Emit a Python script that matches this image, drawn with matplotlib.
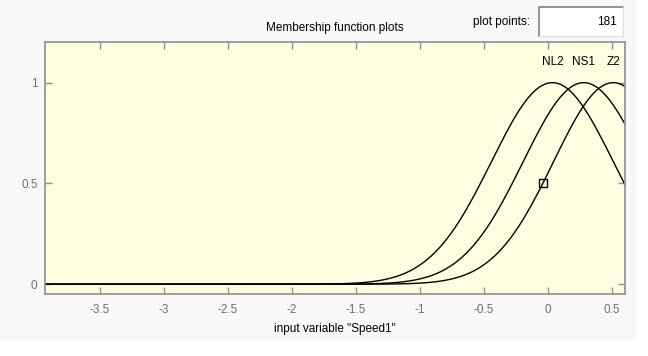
import numpy as np
import matplotlib
matplotlib.use("Agg")
import matplotlib.pyplot as plt
from matplotlib.patches import Rectangle
from matplotlib.lines import Line2D

plt.rcParams['font.family'] = ['Liberation Sans', 'DejaVu Sans']

# Membership functions of input "Speed1" (gaussmf: centre, sigma)
mf_names = ["NL2", "NS1", "Z2"]
mf_centers = [0.035, 0.28, 0.51]
mf_sigmas = [0.477, 0.474, 0.467]

x_range = [-3.93, 0.602]
plot_points = 181

x_ticks = [-3.5, -3, -2.5, -2, -1.5, -1, -0.5, 0, 0.5]
x_tick_labels = ["-3.5", "-3", "-2.5", "-2", "-1.5", "-1", "-0.5", "0", "0.5"]
y_ticks = [0, 0.5, 1]
y_tick_labels = ["0", "0.5", "1"]

# selected point marker
marker_x = [-0.04]
marker_y = [0.5]

W, H = 648, 356
fig = plt.figure(figsize=(W / 100, H / 100), dpi=100, facecolor="white")

# light grey panel behind everything
fig.patches.append(Rectangle((0, 16 / H), 636 / W, 1 - 16 / H, transform=fig.transFigure,
                             facecolor="#f8f8f8", edgecolor="none", zorder=-10))

ax = fig.add_axes([44.5 / W, (H - 294.3) / H, 580.5 / W, 252 / H])
ax.set_facecolor("#fffde0")

x = np.linspace(x_range[0], x_range[1], plot_points)
for name, c, s in zip(mf_names, mf_centers, mf_sigmas):
    y = np.exp(-((x - c) ** 2) / (2 * s ** 2))
    ax.plot(x, y, color="black", lw=1.0)
    ax.text(c, 1.1, name, ha="center", va="center", fontsize=8.5, color="black")

ax.plot(marker_x, marker_y, "s", ms=6, mfc="none", mec="black", mew=1.0)

ax.set_xlim(x_range)
ax.set_ylim(-0.05, 1.2)
ax.set_xticks(x_ticks)
ax.set_xticklabels(x_tick_labels)
ax.set_yticks(y_ticks)
ax.set_yticklabels(y_tick_labels)
ax.tick_params(direction="in", length=5, width=1, color="#909090",
               labelcolor="#707070", labelsize=8.5, top=True, right=True)
ax.tick_params(axis="x", pad=7)
ax.tick_params(axis="y", pad=5)
for sp in ax.spines.values():
    sp.set_color("#909090")
    sp.set_linewidth(1.2)

ax.set_xlabel('input variable "Speed1"', fontsize=8.5, labelpad=5)
ax.set_title("Membership function plots", fontsize=8.5, pad=8)

# "plot points" edit box
fig.text(530 / W, 1 - 22 / H, "plot points:", ha="right", va="center", fontsize=8.5)
fig.patches.append(Rectangle((539 / W, 1 - 36 / H), 84 / W, 29 / H, transform=fig.transFigure,
                             facecolor="white", edgecolor="none"))
fig.lines.append(Line2D([539 / W, 539 / W, 623 / W], [1 - 36 / H, 1 - 7 / H, 1 - 7 / H],
                        transform=fig.transFigure, color="#808080", lw=1.2))
fig.lines.append(Line2D([539 / W, 623 / W, 623 / W], [1 - 36 / H, 1 - 36 / H, 1 - 7 / H],
                        transform=fig.transFigure, color="#e0e0e0", lw=1.0))
fig.text(617 / W, 1 - 22 / H, str(plot_points), ha="right", va="center", fontsize=8.5)

fig.savefig("out.png", dpi=100, facecolor=fig.get_facecolor())
